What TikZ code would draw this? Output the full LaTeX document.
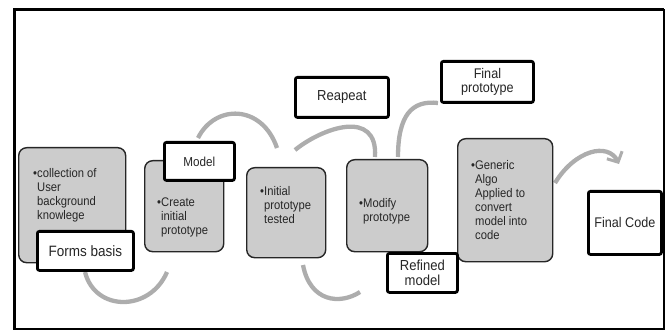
\documentclass[tikz,border=0pt]{standalone}
\usepackage{fontspec}
\setmainfont{Liberation Sans}[FakeStretch=0.9]
\usetikzlibrary{arrows.meta}
\newcommand{\fsz}[2]{\fontsize{#1}{#2}\selectfont}
\begin{document}
\begin{tikzpicture}[x=1pt,y=-1pt,
  stepbox/.style={draw=black!85,line width=1.4pt,fill=black!20,rounded corners=8pt,inner sep=0pt,anchor=north west},
  tagbox/.style={draw=black,line width=2.8pt,fill=white,rounded corners=2pt,inner sep=0pt,anchor=north west,align=center,text=black!85},
  boxtext/.style={anchor=north west,inner sep=0pt,align=left,text=black!85,font=\fsz{12.5}{14}},
  flow/.style={draw=black!32,line width=4.3pt}]
\useasboundingbox (0,0) rectangle (672,331);
% outer frame
\draw[line width=1.6pt] (14,10) rectangle (664,329);
\draw[line width=3pt] (14,329) -- (14,10) -- (664,10);
\draw[line width=2.4pt] (14,329) -- (664,329);

% end points of the grey flow curves
\coordinate (a1s) at (85,272);  \coordinate (a1e) at (167,272);
\coordinate (a2s) at (198,138); \coordinate (a2e) at (277,148);
\coordinate (a3s) at (303,265); \coordinate (a3e) at (360,292);
\coordinate (a4s) at (295,150); \coordinate (a4e) at (375,157);
\coordinate (a5s) at (398,157); \coordinate (a5e) at (438,103);
\coordinate (a6s) at (555,183); \coordinate (a6e) at (619,164);

\draw[flow] (a1s) .. controls (95,312) and (150,312) .. (a1e);
\draw[flow] (a2s) .. controls (215,104) and (262,104) .. (a2e);
\draw[flow] (a3s) .. controls (310,302) and (340,305) .. (a3e);
\draw[flow] (a4s) .. controls (322,128) and (378,108) .. (a4e);
\draw[flow] (a5s) .. controls (398,115) and (412,100) .. (a5e);
\draw[flow,-{Straight Barb[line width=3pt,length=8pt,width=17pt]}] (a6s) .. controls (575,150) and (608,142) .. (a6e);

% grey process boxes
\node[stepbox,minimum width=107pt,minimum height=115pt] (b1) at (18,147) {};
\node[stepbox,minimum width=79pt,minimum height=91pt] (b2) at (144,160) {};
\node[stepbox,minimum width=79pt,minimum height=90pt] (b3) at (246,167) {};
\node[stepbox,minimum width=81pt,minimum height=92pt] (b4) at (346,159) {};
\node[stepbox,minimum width=95pt,minimum height=123pt] (b5) at (457,138) {};

\node[boxtext] (t1) at (33,168) {•collection of\\\hspace*{4pt}User\\\hspace*{4pt}background\\\hspace*{4pt}knowlege};
\node[boxtext] (t2) at (157,198) {•Create\\\hspace*{4pt}initial\\\hspace*{4pt}prototype};
\node[boxtext] (t3) at (260,186) {•Initial\\\hspace*{4pt}prototype\\\hspace*{4pt}tested};
\node[boxtext] (t4) at (359,198) {•Modify\\\hspace*{4pt}prototype};
\node[boxtext] (t5) at (471,160) {•Generic\\\hspace*{4pt}Algo\\\hspace*{4pt}Applied to\\\hspace*{4pt}convert\\\hspace*{4pt}model into\\\hspace*{4pt}code};

% white label boxes
\node[tagbox,minimum width=96pt,minimum height=39pt,font=\fsz{15}{15}] (l1) at (36,230) {Forms basis};
\node[tagbox,minimum width=70pt,minimum height=38pt,font=\fsz{13}{13}] (l2) at (163,141) {Model};
\node[tagbox,minimum width=93pt,minimum height=40pt,font=\fsz{14.5}{14.5}] (l3) at (294,76) {Reapeat};
\node[tagbox,minimum width=92pt,minimum height=41pt,font=\fsz{14}{13.5}] (l4) at (440,60) {Final\\prototype};
\node[tagbox,minimum width=70pt,minimum height=39pt,font=\fsz{14.5}{15}] (l5) at (386,252) {Refined\\model};
\node[tagbox,minimum width=73pt,minimum height=63pt,font=\fsz{14}{14}] (l6) at (587,190) {Final Code};
\end{tikzpicture}
\end{document}
